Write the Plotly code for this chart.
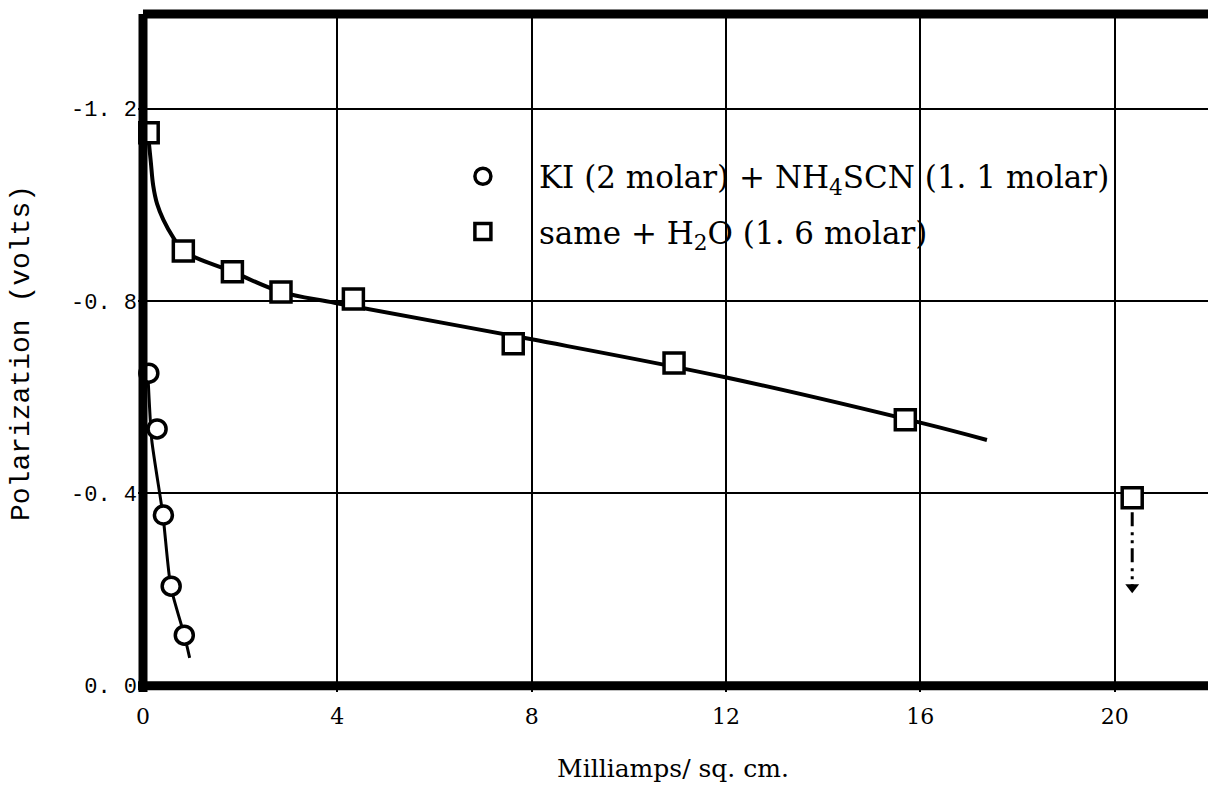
import plotly.graph_objects as go

# ---- data ----
ki_x = [0.12, 0.29, 0.42, 0.58, 0.85]
ki_y = [-0.650, -0.534, -0.355, -0.207, -0.105]
ki_fit_x = [0.10, 0.18, 0.41, 0.57, 0.85, 0.96]
ki_fit_y = [-0.650, -0.511, -0.355, -0.207, -0.105, -0.058]

h2o_x = [0.107, 0.83, 1.84, 2.84, 4.33, 7.62, 10.93, 15.69, 20.36]
h2o_y = [-1.150, -0.904, -0.861, -0.819, -0.804, -0.711, -0.671, -0.553, -0.391]
h2o_fit_x = [0.11, 0.16, 0.21, 0.29, 0.42, 0.63, 0.83, 1.84, 2.84, 3.96, 7.97, 11.96, 16.04, 17.37]
h2o_fit_y = [-1.14, -1.09, -1.040, -1.002, -0.969, -0.931, -0.904, -0.861, -0.819, -0.796,
             -0.721, -0.642, -0.546, -0.511]

arrow_x = [20.36, 20.36]
arrow_y = [-0.361, -0.205]

x_ticks = [0, 4, 8, 12, 16, 20]
y_ticks = [0.0, -0.4, -0.8, -1.2]
y_ticktext = ["0. 0", "-0. 4", "-0. 8", "-1. 2"]

ki_name = "KI (2 molar) + NH<sub>4</sub>SCN (1. 1 molar)"
h2o_name = "same + H<sub>2</sub>O (1. 6 molar)"

SERIF = "DejaVu Serif"
MONO = "Liberation Mono"

fig = go.Figure()

# fitted curves
fig.add_trace(go.Scatter(x=ki_fit_x, y=ki_fit_y, mode="lines",
                         line=dict(color="black", width=3, shape="spline", smoothing=0.6),
                         showlegend=False, hoverinfo="skip"))
fig.add_trace(go.Scatter(x=h2o_fit_x, y=h2o_fit_y, mode="lines",
                         line=dict(color="black", width=4, shape="spline", smoothing=1.0),
                         showlegend=False, hoverinfo="skip"))

# arrow below the last point
fig.add_trace(go.Scatter(x=arrow_x, y=arrow_y, mode="lines",
                         line=dict(color="black", width=3, dash="14px,6px,3px,5px,3px,5px"),
                         showlegend=False, hoverinfo="skip"))
fig.add_trace(go.Scatter(x=[arrow_x[-1]], y=[arrow_y[-1]], mode="markers",
                         marker=dict(symbol="triangle-down", size=12, color="black"),
                         showlegend=False, hoverinfo="skip"))

# data points
fig.add_trace(go.Scatter(x=ki_x, y=ki_y, mode="markers", name=ki_name,
                         legendgroup="a",
                         marker=dict(symbol="circle", size=18, color="white",
                                     line=dict(color="black", width=3.5))))
fig.add_trace(go.Scatter(x=h2o_x, y=h2o_y, mode="markers", name=h2o_name,
                         legendgroup="b",
                         marker=dict(symbol="square", size=20, color="white",
                                     line=dict(color="black", width=3.5))))

# heavy frame: left axis at x=0, bottom axis at y=0, top border
frame = dict(color="black", width=9)
fig.add_shape(type="line", xref="x", yref="paper", x0=0, x1=0, y0=0, y1=1,
              line=frame, layer="above")
fig.add_shape(type="line", xref="paper", yref="y", x0=0, x1=1, y0=0, y1=0,
              line=frame, layer="above")
fig.add_shape(type="line", xref="x", yref="paper", x0=0, x1=1000, y0=1, y1=1,
              line=frame, layer="above")

fig.update_layout(
    width=1208, height=787,
    margin=dict(l=138, r=0, t=14, b=95),
    paper_bgcolor="white", plot_bgcolor="white",
    font=dict(family=SERIF, color="black"),
    legend=dict(x=0.270, y=0.800, xanchor="left", yanchor="top",
                bgcolor="rgba(0,0,0,0)", borderwidth=0,
                font=dict(family=SERIF, size=31, color="black"),
                itemwidth=102, traceorder="grouped", tracegroupgap=12),
)

fig.update_xaxes(
    range=[-0.103, 21.92], tickvals=x_ticks, ticktext=[str(t) for t in x_ticks],
    showgrid=True, gridcolor="black", gridwidth=2, zeroline=False,
    showline=False, ticks="", tickfont=dict(family=SERIF, size=22, color="black"),
    ticklabelstandoff=9,
    title=dict(text="Milliamps/ sq. cm.", font=dict(family=SERIF, size=25, color="black"),
               standoff=31),
)
fig.update_yaxes(
    range=[0.0131, -1.397], tickvals=y_ticks, ticktext=y_ticktext,
    showgrid=True, gridcolor="black", gridwidth=2, zeroline=False,
    showline=False, ticks="", tickfont=dict(family=MONO, size=22, color="black"),
    title=dict(text="Polarization (volts)", font=dict(family=MONO, size=28, color="black"),
               standoff=33),
)

fig.write_html("out.html", config={"displayModeBar": False},
               post_script="document.body.style.margin='0px';")
